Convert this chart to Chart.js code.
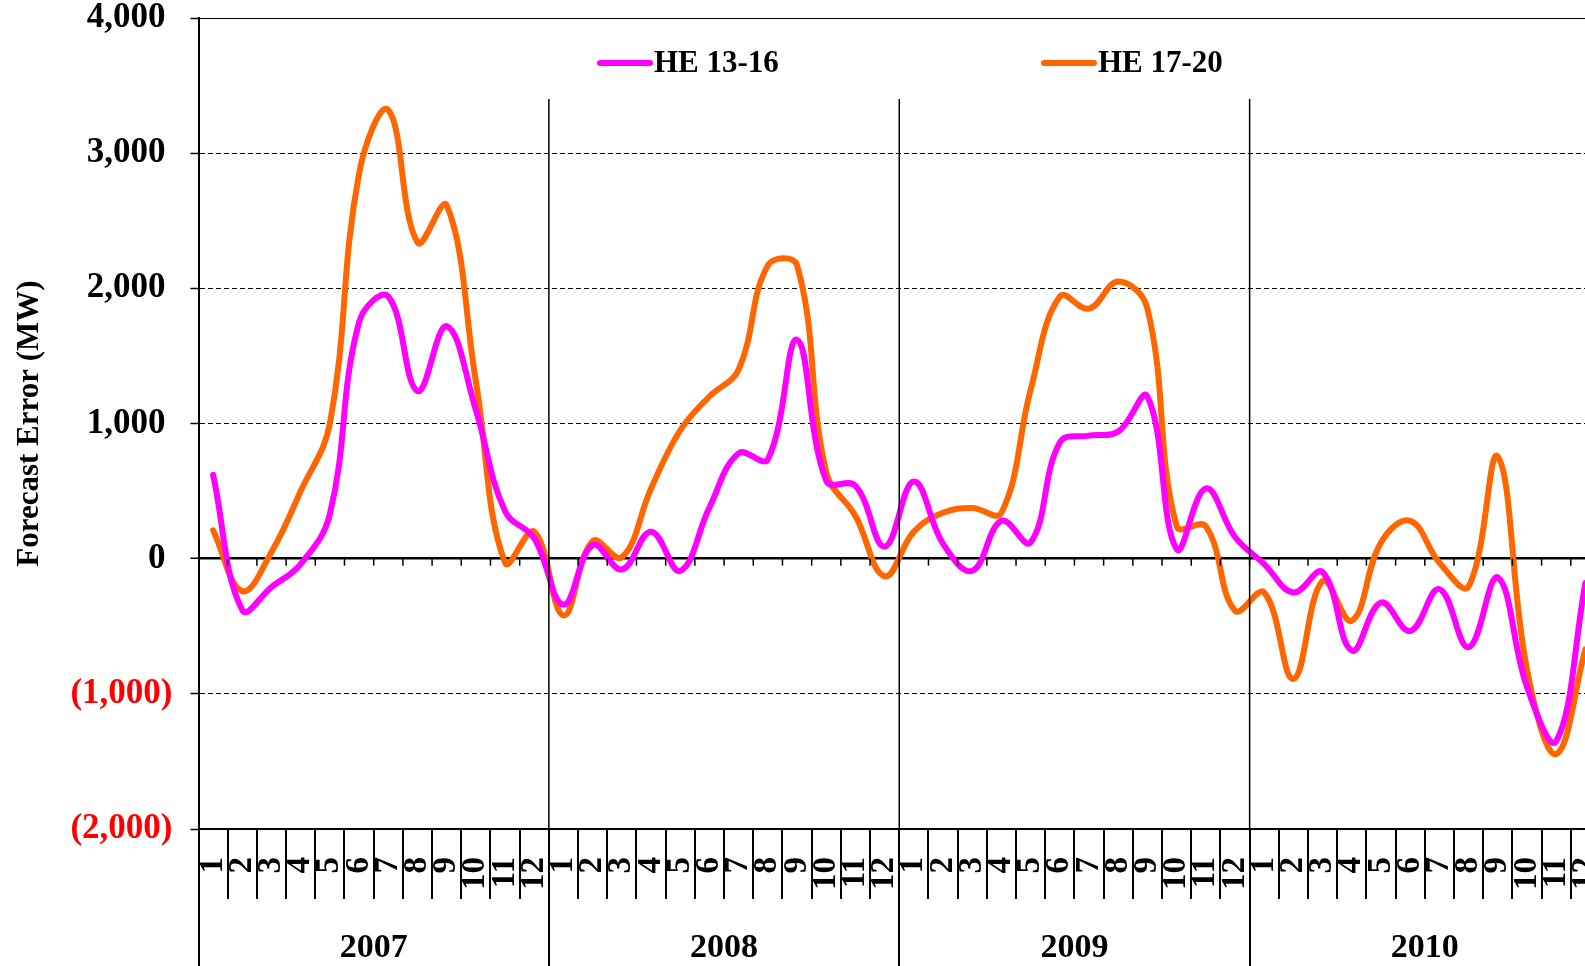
<!DOCTYPE html>
<html>
<head>
<meta charset="utf-8">
<title>Forecast Error</title>
<script src="https://cdn.jsdelivr.net/npm/chart.js@4.4.1/dist/chart.umd.min.js"></script>
<style>
  html, body { margin: 0; padding: 0; background: #fff; overflow: hidden; }
  #wrap { position: relative; width: 1640px; height: 966px; }
</style>
</head>
<body>
<div id="wrap"><canvas id="errChart"></canvas></div>
<script>
const years = ["2007", "2008", "2009", "2010"];
const monthLabels = ["1", "2", "3", "4", "5", "6", "7", "8", "9", "10", "11", "12"];
const categories = years.flatMap(y => monthLabels);

const seriesNames = ["HE 13-16", "HE 17-20"];
const seriesColors = ["#FF00FF", "#FF6600"];

const he1316 = [
  620, -380, -210, -40, 330, 1750, 1940, 1240, 1720, 1100, 350, 150,
  -340, 100, -80, 200, -90, 380, 780, 735, 1620, 575, 540, 90,
  570, 110, -90, 280, 120, 860, 910, 940, 1200, 70, 520, 160,
  -40, -250, -100, -680, -325, -535, -225, -655, -140, -950, -1350, -180
];
const he1720 = [
  210, -240, 50, 500, 1000, 2850, 3320, 2340, 2615, 1310, -30, 200,
  -420, 130, 10, 520, 950, 1200, 1400, 2170, 2170, 640, 315, -130,
  200, 340, 375, 340, 1250, 1940, 1850, 2050, 1850, 240, 240, -385,
  -250, -890, -165, -460, 120, 280, -30, -205, 755, -820, -1445, -670
];

const yMin = -2000, yMax = 4000, yStep = 1000;
const FONT = "'Times New Roman', 'Liberation Serif', serif";

// year dividers inside the plot + little ticks on the zero line
const dividers = {
  id: "dividers",
  afterDatasetsDraw(chart) {
    const { ctx, chartArea } = chart;
    const x = chart.scales.x, y = chart.scales.y;
    const half = (x.getPixelForTick(1) - x.getPixelForTick(0)) / 2;
    const y0 = y.getPixelForValue(0);
    ctx.save();
    ctx.strokeStyle = "#000";
    ctx.lineWidth = 1.5;
    for (let i = 1; i <= categories.length; i++) {
      const bx = x.getPixelForTick(i - 1) + half;
      ctx.beginPath();
      ctx.moveTo(bx, y0);
      ctx.lineTo(bx, y0 + 7);
      ctx.stroke();
      if (i % 12 === 0 && i < categories.length) {
        ctx.beginPath();
        ctx.moveTo(bx, 99);
        ctx.lineTo(bx, chartArea.bottom);
        ctx.stroke();
      }
    }
    ctx.restore();
  }
};

// legend sitting inside the plot
const legendInside = {
  id: "legendInside",
  afterDraw(chart) {
    const { ctx } = chart;
    const spots = [600, 1044];
    ctx.save();
    chart.data.datasets.forEach((ds, i) => {
      const lx = spots[i], ly = 63;
      ctx.strokeStyle = ds.borderColor;
      ctx.lineWidth = 6;
      ctx.lineCap = "round";
      ctx.beginPath();
      ctx.moveTo(lx, ly);
      ctx.lineTo(lx + 50, ly);
      ctx.stroke();
      ctx.fillStyle = "#000";
      ctx.font = "bold 31px " + FONT;
      ctx.textBaseline = "middle";
      ctx.fillText(ds.label, lx + 54, ly + 1);
    });
    ctx.restore();
  }
};

new Chart(document.getElementById("errChart"), {
  type: "line",
  data: {
    labels: categories,
    datasets: [
      { label: seriesNames[0], data: he1316, borderColor: seriesColors[0], backgroundColor: seriesColors[0],
        borderWidth: 6, pointRadius: 0, tension: 0.4, borderCapStyle: "round", borderJoinStyle: "round" },
      { label: seriesNames[1], data: he1720, borderColor: seriesColors[1], backgroundColor: seriesColors[1],
        borderWidth: 6, pointRadius: 0, tension: 0.4, borderCapStyle: "round", borderJoinStyle: "round" }
    ]
  },
  options: {
    responsive: true,
    maintainAspectRatio: false,
    animation: false,
    layout: { padding: { left: 11, top: 18, right: 40, bottom: 0 } },
    plugins: { legend: { display: false }, tooltip: { enabled: false } },
    scales: {
      x: {
        type: "category",
        position: "bottom",
        weight: 0,
        offset: true,
        afterFit: s => { s.height = 70; },
        grid: { offset: true, drawOnChartArea: false, drawTicks: true, tickLength: 70, color: "#000", lineWidth: 2 },
        border: { display: true, color: "#000", width: 2 },
        ticks: {
          autoSkip: false, minRotation: 90, maxRotation: 90, padding: -42,
          color: "#000", font: { family: FONT, size: 33, weight: "bold" }
        }
      },
      years: {
        type: "category",
        labels: years,
        position: "bottom",
        weight: 1,
        offset: true,
        afterFit: s => { s.height = 67; },
        grid: { offset: true, drawOnChartArea: false, drawTicks: true, tickLength: 67, color: "#000", lineWidth: 2 },
        border: { display: false },
        ticks: { padding: -38, color: "#000", font: { family: FONT, size: 34, weight: "bold" } }
      },
      y: {
        min: yMin, max: yMax,
        afterFit: s => { s.width = 187.5; s.paddingTop = 0; s.paddingBottom = 0; },
        grid: {
          color: "#000",
          lineWidth: c => (c.tick && c.tick.value === 0 ? 2.5 : 1),
          drawTicks: true, tickLength: 8, tickColor: "#000", tickWidth: 1.5, tickBorderDash: []
        },
        border: {
          display: true, color: "#000", width: 2,
          dash: c => (c.tick && (c.tick.value === 0 || c.tick.value === yMax || c.tick.value === yMin) ? [] : [5, 3])
        },
        ticks: {
          stepSize: yStep,
          padding: 18,
          color: c => (c.tick.value < 0 ? "#FF0000" : "#000"),
          font: { family: FONT, size: 35, weight: "bold", lineHeight: 1 },
          callback: v => v < 0 ? "(" + Math.abs(v).toLocaleString("en-US") + ")" : v.toLocaleString("en-US") + "\u2009"
        },
        title: {
          display: true, text: "Forecast Error (MW)", color: "#000", padding: 0,
          font: { family: FONT, size: 31, weight: "bold" }
        }
      }
    }
  },
  plugins: [dividers, legendInside]
});
</script>
</body>
</html>
